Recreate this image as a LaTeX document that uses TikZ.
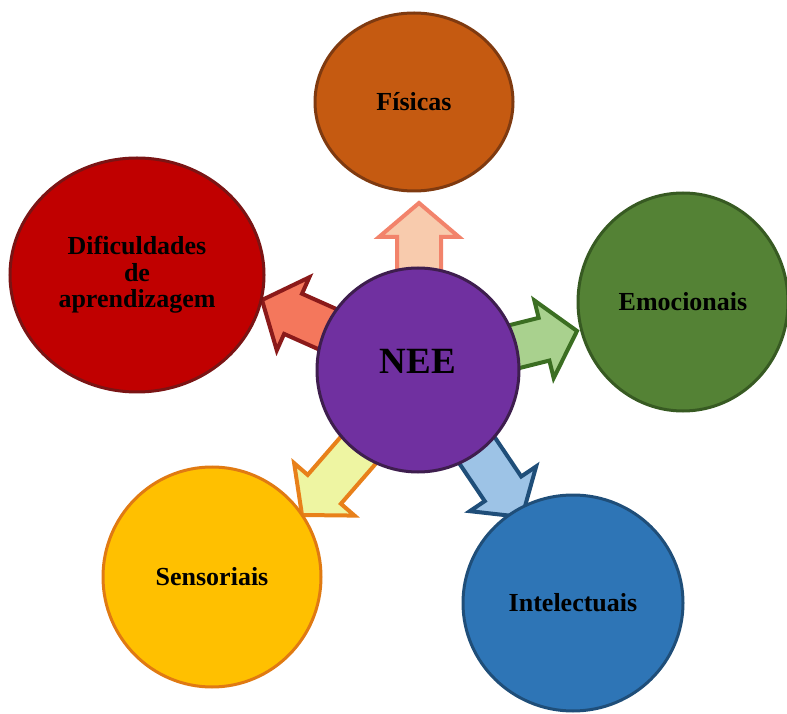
\documentclass[tikz,border=0pt]{standalone}
\usepackage{fontspec}
\setmainfont{Liberation Serif}
\usetikzlibrary{shapes.geometric}

% circle fills and borders
\definecolor{fisFill}{HTML}{C55A11}\definecolor{fisLine}{HTML}{7F3A10}
\definecolor{difFill}{HTML}{C00000}\definecolor{difLine}{HTML}{7A1414}
\definecolor{emoFill}{HTML}{548235}\definecolor{emoLine}{HTML}{375A22}
\definecolor{neeFill}{HTML}{7030A0}\definecolor{neeLine}{HTML}{3E1E4E}
\definecolor{senFill}{HTML}{FFC000}\definecolor{senLine}{HTML}{E07A12}
\definecolor{intFill}{HTML}{2E75B6}\definecolor{intLine}{HTML}{1F4E79}
% arrow fills and outlines
\definecolor{upFill}{HTML}{F8CBAD}\definecolor{upLine}{HTML}{F2836B}
\definecolor{lfFill}{HTML}{F4775C}\definecolor{lfLine}{HTML}{8B1A1A}
\definecolor{rtFill}{HTML}{A9D18E}\definecolor{rtLine}{HTML}{3B6E22}
\definecolor{dlFill}{HTML}{EEF5A2}\definecolor{dlLine}{HTML}{E8801A}
\definecolor{drFill}{HTML}{9DC3E6}\definecolor{drLine}{HTML}{1F4E79}

\tikzset{
  bubble/.style={ellipse, inner sep=0pt, line width=3pt, text=black,
    font=\bfseries\fontsize{26}{26.5}\selectfont, align=center},
  blockarrow/.pic={
    \path[pic actions] (0,0) -- (-34,40) -- (-34,22) -- (-115,22)
      -- (-115,-22) -- (-34,-22) -- (-34,-40) -- cycle;
  },
  arrowline/.style={line width=4pt, line join=miter}
}

\begin{document}
\begin{tikzpicture}[x=1pt, y=1pt]
\useasboundingbox (0,0) rectangle (787,713);

% arrow tips, one per outer circle
\coordinate (tipUp) at (419,510);
\coordinate (tipLeft) at (262,413);
\coordinate (tipRight) at (577,382);
\coordinate (tipDownLeft) at (302,198);
\coordinate (tipDownRight) at (522,196);

% block arrows from the centre outwards
\pic[arrowline, fill=upFill, draw=upLine, rotate=90] at (tipUp) {blockarrow};
\pic[arrowline, fill=lfFill, draw=lfLine, rotate=156] at (tipLeft) {blockarrow};
\pic[arrowline, fill=rtFill, draw=rtLine, rotate=14] at (tipRight) {blockarrow};
\pic[arrowline, fill=dlFill, draw=dlLine, rotate=229] at (tipDownLeft) {blockarrow};
\pic[arrowline, fill=drFill, draw=drLine, rotate=-56] at (tipDownRight) {blockarrow};

% outer circles
\node[bubble, fill=fisFill, draw=fisLine, minimum width=198pt, minimum height=178pt]
  (fisicas) at (414,611) {Físicas};
\node[bubble, fill=difFill, draw=difLine, minimum width=254pt, minimum height=234pt]
  (dificuldades) at (137,438) {Dificuldades\\de\\aprendizagem};
\node[bubble, fill=emoFill, draw=emoLine, minimum width=210pt, minimum height=218pt]
  (emocionais) at (683,411) {Emocionais};
\node[bubble, fill=senFill, draw=senLine, minimum width=218pt, minimum height=220pt]
  (sensoriais) at (212,136) {Sensoriais};
\node[bubble, fill=intFill, draw=intLine, minimum width=220pt, minimum height=216pt]
  (intelectuais) at (573,110) {Intelectuais};

% centre circle
\node[bubble, fill=neeFill, draw=neeLine, minimum width=202pt, minimum height=204pt]
  (nee) at (418,343) {};
\node[font=\bfseries\fontsize{37}{40}\selectfont, text=black, inner sep=0pt]
  (neelabel) at ([yshift=9]nee.center) {NEE};
\end{tikzpicture}
\end{document}
